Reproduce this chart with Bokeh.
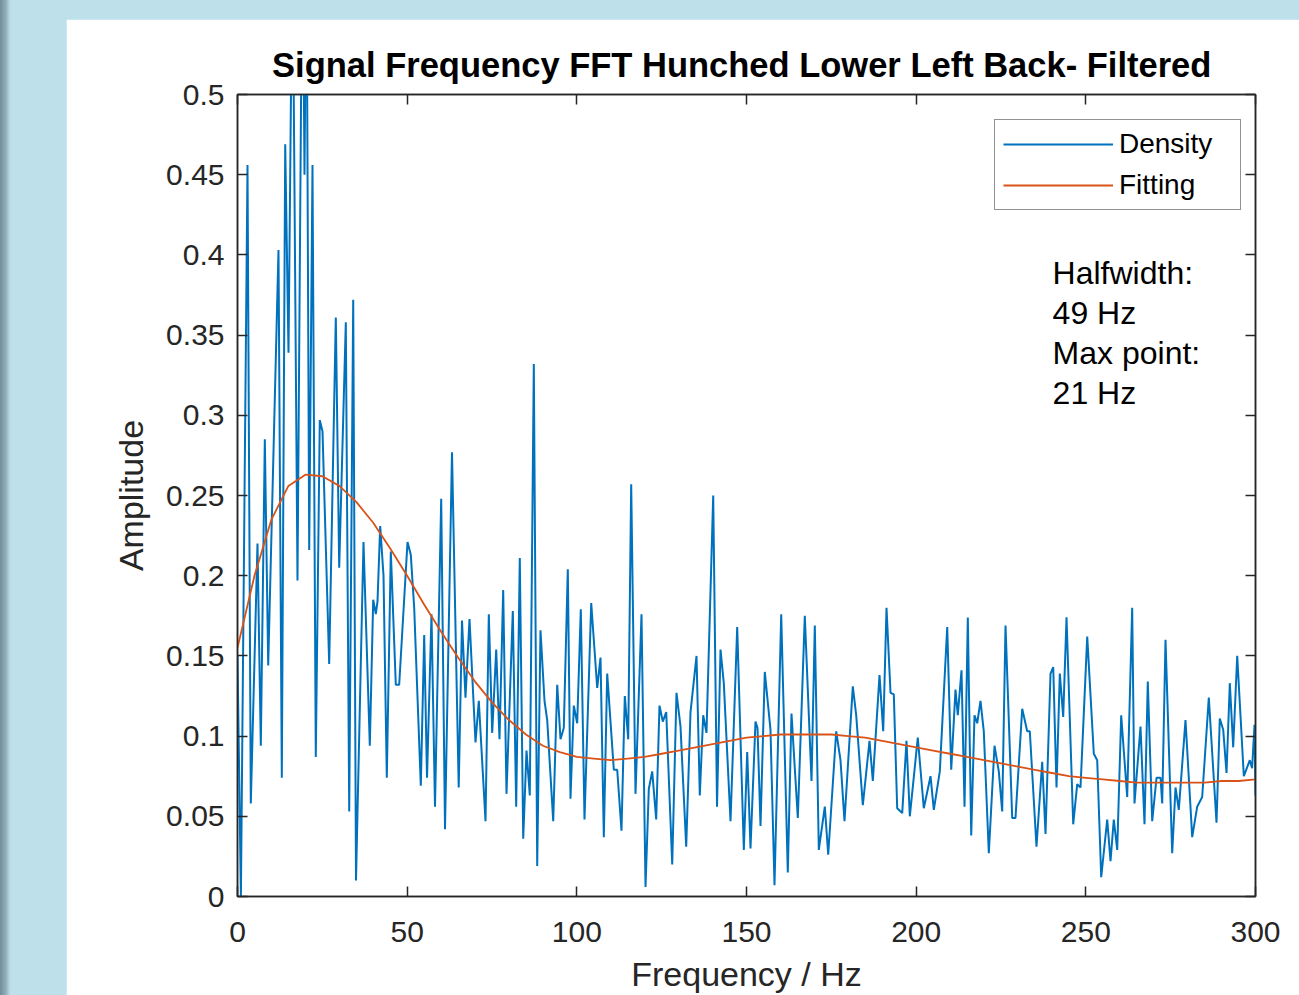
from bokeh.plotting import figure
from bokeh.models import (FixedTicker, LinearAxis, Legend, LegendItem, Label,
                          Range1d, GlobalInlineStyleSheet)
from bokeh.embed import file_html
from bokeh.resources import INLINE

# ---------------- data ----------------
title_text = "Signal Frequency FFT  Hunched Lower Left Back- Filtered"
x_label = "Frequency / Hz"
y_label = "Amplitude"
x_ticks = [0, 50, 100, 150, 200, 250, 300]
x_tick_labels = ["0", "50", "100", "150", "200", "250", "300"]
y_ticks = [0, 0.05, 0.1, 0.15, 0.2, 0.25, 0.3, 0.35, 0.4, 0.45, 0.5]
y_tick_labels = ["0", "0.05", "0.1", "0.15", "0.2", "0.25", "0.3", "0.35", "0.4", "0.45", "0.5"]
series_names = ["Density", "Fitting"]
note_lines = ["Halfwidth:", "49 Hz", "Max point:", "21 Hz"]

density_freq = [
    0.0, 1.0, 2.95, 3.92, 5.89, 6.87, 8.05, 9.05, 12.08, 13.06,
    14.06, 15.03, 16.21, 17.68, 19.16, 19.74, 20.33, 21.13, 22.10, 23.07,
    24.25, 25.05, 27.02, 28.97, 29.97, 31.92, 32.92, 34.10, 34.92, 37.13,
    38.99, 39.99, 40.76, 41.26, 42.05, 43.03, 44.00, 45.18, 46.65, 47.65,
    50.10, 51.07, 52.07, 54.02, 55.02, 55.85, 57.17, 58.20, 60.03, 61.15,
    63.21, 65.19, 66.16, 67.19, 68.37, 70.14, 71.11, 73.09, 74.06, 75.06,
    76.24, 77.21, 78.30, 79.27, 81.13, 82.13, 83.19, 84.20, 85.17, 86.14,
    87.32, 88.32, 89.29, 90.47, 91.27, 93.04, 94.22, 95.19, 96.16, 97.34,
    98.13, 99.11, 100.11, 101.17, 102.26, 104.24, 106.00, 106.98, 107.95, 108.95,
    110.90, 111.90, 113.16, 114.14, 115.14, 116.02, 117.29, 119.06, 120.24, 121.21,
    122.21, 123.39, 124.36, 125.34, 126.34, 128.11, 129.37, 130.55, 132.23, 133.50,
    135.27, 136.24, 137.24, 138.21, 140.19, 141.31, 142.34, 143.31, 145.29, 147.26,
    149.21, 150.21, 151.18, 152.65, 153.24, 154.13, 155.39, 157.07, 158.25, 160.23,
    162.17, 163.26, 165.12, 167.18, 169.16, 170.13, 171.31, 173.08, 174.08, 176.44,
    177.70, 178.88, 181.33, 182.33, 184.28, 186.25, 187.23, 189.20, 190.29, 191.26,
    192.44, 193.41, 194.41, 195.89, 197.15, 198.13, 200.48, 202.25, 204.23, 205.20,
    206.97, 209.15, 210.33, 211.59, 212.27, 213.36, 214.25, 215.22, 216.22, 217.19,
    217.99, 218.96, 219.93, 221.41, 223.09, 224.35, 225.35, 226.33, 228.30, 229.27,
    231.25, 232.72, 233.49, 235.46, 237.14, 238.12, 239.59, 240.39, 241.36, 242.33,
    243.33, 244.31, 246.28, 247.46, 248.43, 250.41, 252.35, 253.35, 254.53, 256.30,
    257.27, 258.24, 259.25, 260.42, 262.19, 263.66, 264.34, 266.11, 267.29, 268.26,
    269.56, 270.83, 272.01, 272.51, 273.48, 275.45, 276.43, 277.40, 279.37, 281.35,
    282.82, 284.29, 286.24, 288.51, 289.48, 290.48, 291.46, 292.43, 293.43, 294.61,
    296.56, 298.32, 299.00, 299.71, 300.0,
]
density_amp = [
    0.150, 0.000, 0.456, 0.058, 0.220, 0.094, 0.285, 0.144, 0.403, 0.074,
    0.469, 0.339, 0.600, 0.197, 0.620, 0.450, 0.600, 0.216, 0.456, 0.087,
    0.297, 0.290, 0.145, 0.361, 0.205, 0.358, 0.053, 0.372, 0.010, 0.221,
    0.094, 0.185, 0.176, 0.184, 0.231, 0.200, 0.074, 0.215, 0.132, 0.132,
    0.221, 0.213, 0.180, 0.069, 0.163, 0.074, 0.176, 0.056, 0.248, 0.042,
    0.277, 0.068, 0.172, 0.124, 0.173, 0.096, 0.122, 0.047, 0.176, 0.102,
    0.154, 0.098, 0.191, 0.064, 0.178, 0.056, 0.211, 0.036, 0.091, 0.063,
    0.332, 0.019, 0.166, 0.122, 0.110, 0.047, 0.132, 0.098, 0.105, 0.204,
    0.061, 0.119, 0.108, 0.179, 0.048, 0.183, 0.130, 0.149, 0.037, 0.139,
    0.079, 0.079, 0.041, 0.125, 0.098, 0.257, 0.064, 0.176, 0.006, 0.067,
    0.078, 0.048, 0.119, 0.109, 0.115, 0.020, 0.127, 0.106, 0.031, 0.115,
    0.150, 0.063, 0.113, 0.102, 0.250, 0.056, 0.154, 0.133, 0.047, 0.168,
    0.029, 0.090, 0.030, 0.109, 0.105, 0.044, 0.140, 0.104, 0.007, 0.176,
    0.015, 0.114, 0.049, 0.175, 0.072, 0.169, 0.029, 0.056, 0.026, 0.103,
    0.085, 0.047, 0.131, 0.113, 0.057, 0.097, 0.072, 0.138, 0.103, 0.180,
    0.127, 0.126, 0.055, 0.052, 0.097, 0.050, 0.099, 0.055, 0.075, 0.054,
    0.078, 0.168, 0.079, 0.129, 0.113, 0.141, 0.056, 0.174, 0.038, 0.113,
    0.108, 0.122, 0.103, 0.027, 0.094, 0.078, 0.053, 0.169, 0.049, 0.049,
    0.117, 0.103, 0.103, 0.031, 0.084, 0.039, 0.139, 0.143, 0.068, 0.139,
    0.112, 0.174, 0.045, 0.070, 0.068, 0.162, 0.089, 0.085, 0.012, 0.048,
    0.022, 0.048, 0.029, 0.113, 0.062, 0.180, 0.058, 0.106, 0.045, 0.134,
    0.047, 0.074, 0.074, 0.058, 0.160, 0.027, 0.068, 0.054, 0.110, 0.037,
    0.056, 0.062, 0.124, 0.046, 0.111, 0.104, 0.077, 0.133, 0.093, 0.150,
    0.075, 0.085, 0.080, 0.107, 0.063,
]

fit_freq = [
    0, 5, 10, 15, 20, 25, 30, 35, 40, 45, 50, 55, 60, 65, 70, 75, 80, 85, 90, 95,
    100, 105, 110, 115, 120, 125, 130, 135, 140, 145, 150, 155, 160, 165, 170, 175,
    180, 185, 190, 195, 200, 205, 210, 215, 220, 225, 230, 235, 240, 245, 250, 255,
    260, 265, 270, 275, 280, 285, 290, 295, 300,
]
fit_amp = [
    0.155, 0.200, 0.235, 0.256, 0.263, 0.262, 0.256, 0.246, 0.233, 0.217,
    0.200, 0.182, 0.165, 0.149, 0.134, 0.121, 0.110, 0.101, 0.094, 0.090,
    0.087, 0.086, 0.085, 0.086, 0.087, 0.089, 0.091, 0.093, 0.095, 0.097,
    0.099, 0.100, 0.101, 0.101, 0.101, 0.101, 0.100, 0.099, 0.097, 0.095,
    0.093, 0.091, 0.089, 0.087, 0.085, 0.083, 0.081, 0.079, 0.077, 0.075,
    0.074, 0.073, 0.072, 0.071, 0.071, 0.071, 0.071, 0.071, 0.072, 0.072,
    0.073,
]

# ---------------- styling ----------------
FONT = "Liberation Sans"
AX = "#262626"
BLUE = "#0072BD"
ORANGE = "#D95319"

p = figure(width=1233, height=976, output_backend="svg", toolbar_location=None,
           x_range=Range1d(0, 300), y_range=Range1d(0, 0.5),
           min_border_left=171, min_border_right=44, min_border_top=75,
           min_border_bottom=99, border_fill_color="white",
           background_fill_color="white")
p.margin = (19, 0, 0, 66)
p.stylesheets = [GlobalInlineStyleSheet(css=(
    "html, body { margin:0; padding:0; overflow:hidden; "
    "background: linear-gradient(to right, #6f8d9a 0px, #90aebb 6px, #b2d3de 9px, "
    "#bde0ea 11px, #bde0ea 100%); }"))]

p.grid.visible = False
p.outline_line_color = AX
p.outline_line_width = 1.5

p.title.text = title_text
p.title.text_font = FONT
p.title.text_font_size = "34.5px"
p.title.text_font_style = "bold"
p.title.text_color = "#000000"
p.title.align = "center"
p.title.standoff = 22

xax = p.xaxis[0]
yax = p.yaxis[0]
xax.ticker = FixedTicker(ticks=x_ticks)
yax.ticker = FixedTicker(ticks=y_ticks)
xax.major_label_overrides = {t: l for t, l in zip(x_ticks, x_tick_labels)}
yax.major_label_overrides = {t: l for t, l in zip(y_ticks, y_tick_labels)}
xax.axis_label = x_label
yax.axis_label = y_label

top = LinearAxis(ticker=FixedTicker(ticks=x_ticks))
right = LinearAxis(ticker=FixedTicker(ticks=y_ticks))
p.add_layout(top, "above")
p.add_layout(right, "right")

for ax in (xax, yax, top, right):
    ax.axis_line_color = AX
    ax.axis_line_width = 1.5
    ax.major_tick_line_color = AX
    ax.major_tick_line_width = 1.5
    ax.major_tick_in = 10
    ax.major_tick_out = 0
    ax.minor_tick_line_color = None
    ax.major_label_text_font = FONT
    ax.major_label_text_font_size = "30px"
    ax.major_label_text_color = AX
    ax.axis_label_text_font = FONT
    ax.axis_label_text_font_size = "34px"
    ax.axis_label_text_font_style = "normal"
    ax.axis_label_text_color = AX
for ax in (top, right):
    ax.major_label_text_font_size = "0px"
    ax.major_label_text_color = None
    ax.major_label_standoff = 0

xax.major_label_standoff = 25
xax.axis_label_standoff = 10
yax.major_label_standoff = 13
yax.axis_label_standoff = 13

r_density = p.line(density_freq, density_amp, line_color=BLUE, line_width=2)
r_fit = p.line(fit_freq, fit_amp, line_color=ORANGE, line_width=1.8)

legend = Legend(items=[LegendItem(label=series_names[0], renderers=[r_density]),
                       LegendItem(label=series_names[1], renderers=[r_fit])],
                location=(757, 686))
legend.border_line_color = AX
legend.border_line_width = 1.5
legend.background_fill_color = "white"
legend.background_fill_alpha = 1.0
legend.label_text_font = FONT
legend.label_text_font_size = "28px"
legend.label_text_color = "#000000"
legend.glyph_width = 110
legend.glyph_height = 30
legend.label_height = 30
legend.label_width = 113
legend.label_standoff = 6
legend.padding = 8
legend.spacing = 9
legend.margin = 0
p.add_layout(legend)

note_y = [0.3890, 0.3640, 0.3391, 0.3142]
for txt, yy in zip(note_lines, note_y):
    p.add_layout(Label(x=240.2, y=yy, text=txt, text_font=FONT,
                       text_font_size="32px", text_color="#000000",
                       text_baseline="middle", text_align="left"))

open("out.html", "w").write(file_html(p, INLINE))
